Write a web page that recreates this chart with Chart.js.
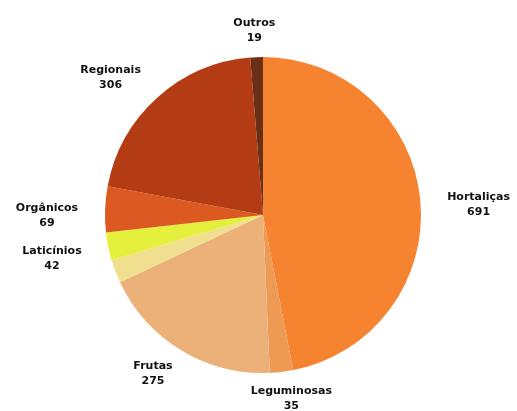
<!DOCTYPE html>
<html>
<head>
<meta charset="utf-8">
<script src="https://cdn.jsdelivr.net/npm/chart.js@4"></script>
<style>
    html, body { margin: 0; padding: 0; background: #fff; }
    #wrap { width: 517px; height: 411px; }
</style>
</head>
<body>
<div id="wrap"><canvas id="myChart"></canvas></div>
<script>
const categories = ['Hortaliças', 'Leguminosas', 'Frutas', '', 'Laticínios', 'Orgânicos', 'Regionais', 'Outros'];
const amounts = [691, 35, 275, 35, 42, 69, 306, 19];
const sliceColors = ['#f6832f', '#ee9a55', '#ebb178', '#efdf8e', '#e4f03c', '#dc5a22', '#b33c14', '#6b2f16'];

// name + value written just outside each slice
const outsideLabels = {
    id: 'outsideLabels',
    afterDatasetsDraw(chart) {
        const ctx = chart.ctx;
        const meta = chart.getDatasetMeta(0);
        const lineH = 15;
        ctx.save();
        ctx.font = 'bold 11px "DejaVu Sans"';
        ctx.fillStyle = '#111';
        ctx.textAlign = 'center';
        ctx.textBaseline = 'middle';
        meta.data.forEach((arc, i) => {
            if (!categories[i]) return;
            const p = arc.getProps(['x', 'y', 'startAngle', 'endAngle', 'outerRadius'], true);
            const mid = (p.startAngle + p.endAngle) / 2;
            const cos = Math.cos(mid), sin = Math.sin(mid);
            const r = p.outerRadius + 27;
            const lines = [categories[i], String(chart.data.datasets[0].data[i])];
            const w = Math.max(...lines.map(t => ctx.measureText(t).width));
            const h = lines.length * lineH;
            const shift = Math.max(-1, Math.min(1, cos * 1.4));
            // side labels hang from the anchor, top/bottom ones sit centred on it
            const drop = Math.max(0, (Math.abs(cos) - 0.7) / 0.3) * (h - lineH) / 2;
            const cx = p.x + cos * r + shift * w / 2;
            const cy = p.y + sin * r + drop;
            lines.forEach((t, k) => {
                ctx.fillText(t, cx, cy - h / 2 + lineH * (k + 0.5));
            });
        });
        ctx.restore();
    }
};

const config = {
    type: 'pie',
    data: {
        labels: categories,
        datasets: [{
            data: amounts,
            backgroundColor: sliceColors,
            borderWidth: 0
        }]
    },
    options: {
        responsive: true,
        maintainAspectRatio: false,
        animation: false,
        layout: {
            padding: { top: 57, bottom: 38, left: 60, right: 51 }
        },
        plugins: {
            legend: { display: false },
            tooltip: { enabled: false }
        }
    },
    plugins: [outsideLabels]
};

const myChart = new Chart(document.getElementById('myChart'), config);
</script>
</body>
</html>
